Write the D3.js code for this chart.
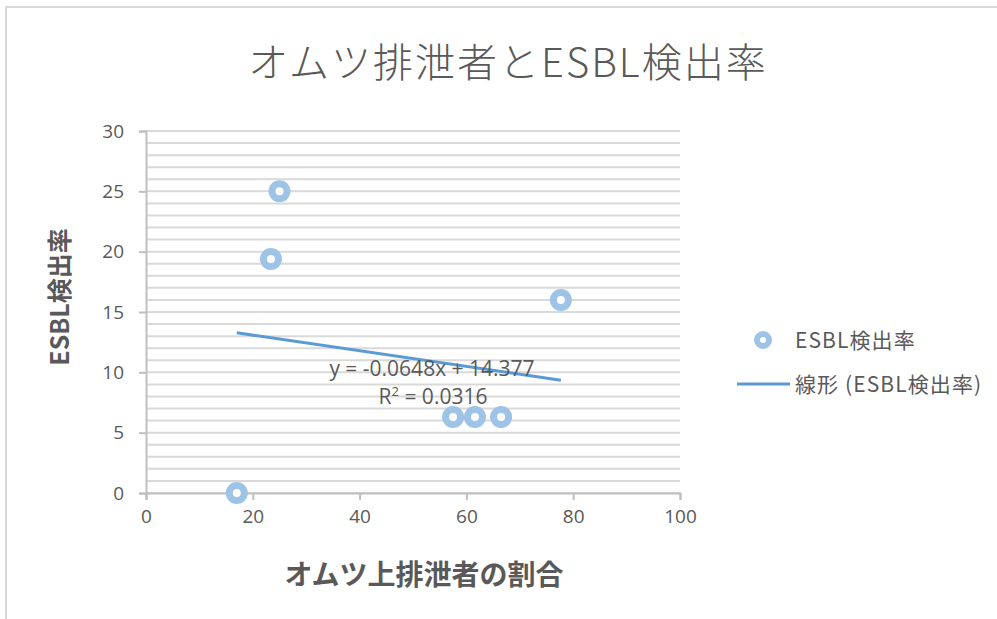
<!DOCTYPE html>
<html>
<head>
<meta charset="utf-8">
<script src="https://cdn.jsdelivr.net/npm/d3@7"></script>
<style>
  html, body { margin: 0; padding: 0; background: #fff; }
  svg { display: block; font-family: "Noto Sans CJK JP", "Noto Sans", sans-serif; }
</style>
</head>
<body>
<svg id="chart" width="997" height="619"></svg>
<script>
// Share of diaper users (%) vs ESBL detection rate (%)
const xValues = [17.0, 23.4, 25.0, 57.5, 61.6, 66.5, 77.7];
const yValues = [0.0, 19.4, 25.0, 6.3, 6.3, 6.3, 16.0];
const xTicks = [0, 20, 40, 60, 80, 100];
const yTicks = [0, 5, 10, 15, 20, 25, 30];
const trendSlope = -0.0648;
const trendIntercept = 14.377;
const trendR2 = 0.0316;

const titleText = "オムツ排泄者とESBL検出率";
const xTitle = "オムツ上排泄者の割合";
const yTitle = "ESBL検出率";
const seriesName = "ESBL検出率";
const trendName = "線形 (ESBL検出率)";

const svg = d3.select("#chart");
const textColor = "#595959";
const gridColor = "#d9d9d9";
const axisColor = "#bfbfbf";
const markerColor = "#9dc3e6";
const trendColor = "#5b9bd5";
const numFont = "'Open Sans', 'Noto Sans', sans-serif";

// Outer chart frame (top and left edges visible)
svg.append("path")
  .attr("d", "M6,619 V7 H997")
  .attr("fill", "none")
  .attr("stroke", "#d9d9d9")
  .attr("stroke-width", 2);

const x = d3.scaleLinear().domain([0, 100]).range([146, 680]);
const y = d3.scaleLinear().domain([0, 30]).range([493, 131]);

// Horizontal gridlines every unit
const gridVals = d3.range(0, 31, 1);
svg.append("g").selectAll("line").data(gridVals).join("line")
  .attr("x1", x(0)).attr("x2", x(100))
  .attr("y1", d => y(d)).attr("y2", d => y(d))
  .attr("stroke", gridColor).attr("stroke-width", 2);

// Y axis
const yAxis = svg.append("g").attr("transform", `translate(${x(0)},0)`)
  .call(d3.axisLeft(y).tickValues(yTicks).tickSize(7).tickPadding(15));
yAxis.select(".domain").attr("stroke", axisColor).attr("stroke-width", 2);
yAxis.selectAll(".tick line").attr("stroke", axisColor).attr("stroke-width", 2);
yAxis.selectAll(".tick text")
  .attr("fill", textColor).attr("font-size", 19)
  .attr("font-family", numFont);

// X axis
const xAxis = svg.append("g").attr("transform", `translate(0,${y(0)})`)
  .call(d3.axisBottom(x).tickValues(xTicks).tickSize(7).tickPadding(10));
xAxis.select(".domain").attr("stroke", axisColor).attr("stroke-width", 2);
xAxis.selectAll(".tick line").attr("stroke", axisColor).attr("stroke-width", 2);
xAxis.selectAll(".tick text")
  .attr("fill", textColor).attr("font-size", 19)
  .attr("font-family", numFont);

// Linear trendline across the data's x-range
const xMin = d3.min(xValues), xMax = d3.max(xValues);
const trend = d => trendSlope * d + trendIntercept;
svg.append("line")
  .attr("x1", x(xMin)).attr("y1", y(trend(xMin)))
  .attr("x2", x(xMax)).attr("y2", y(trend(xMax)))
  .attr("stroke", trendColor).attr("stroke-width", 3);

// Scatter markers (ring)
const pts = xValues.map((v, i) => ({ x: v, y: yValues[i] }));
svg.append("g").selectAll("circle").data(pts).join("circle")
  .attr("cx", d => x(d.x)).attr("cy", d => y(d.y))
  .attr("r", 7.5)
  .attr("fill", "#fff")
  .attr("stroke", markerColor).attr("stroke-width", 7);

// Trendline equation label
const eq = svg.append("g").attr("font-size", 21).attr("fill", textColor)
  .attr("font-family", numFont)
  .attr("text-anchor", "middle");
eq.append("text").attr("x", 432).attr("y", 376)
  .text(`y = ${trendSlope}x + ${trendIntercept}`);
const r2 = eq.append("text").attr("x", 433).attr("y", 404);
r2.append("tspan").text("R");
r2.append("tspan").attr("font-size", 13).attr("dy", -8).text("2");
r2.append("tspan").attr("dy", 8).text(` = ${trendR2}`);

// Title
svg.append("text")
  .attr("x", 508).attr("y", 77)
  .attr("text-anchor", "middle")
  .attr("font-size", 40).attr("font-weight", 300)
  .attr("letter-spacing", 2)
  .attr("fill", textColor)
  .text(titleText);

// Axis titles
svg.append("text")
  .attr("x", 424).attr("y", 585)
  .attr("text-anchor", "middle")
  .attr("font-size", 28).attr("font-weight", 700)
  .attr("fill", textColor)
  .text(xTitle);

svg.append("text")
  .attr("transform", "translate(69,297) rotate(-90)")
  .attr("text-anchor", "middle")
  .attr("font-size", 25).attr("font-weight", 700)
  .attr("fill", textColor)
  .text(yTitle);

// Legend
const legend = svg.append("g").attr("font-size", 21).attr("fill", textColor)
  .attr("letter-spacing", 1.1);
legend.append("circle")
  .attr("cx", 763).attr("cy", 340).attr("r", 6)
  .attr("fill", "#fff").attr("stroke", markerColor).attr("stroke-width", 6);
legend.append("text").attr("x", 795).attr("y", 348).text(seriesName);
legend.append("line")
  .attr("x1", 737).attr("x2", 790).attr("y1", 384).attr("y2", 384)
  .attr("stroke", trendColor).attr("stroke-width", 3);
legend.append("text").attr("x", 795).attr("y", 392).text(trendName);
</script>
</body>
</html>
